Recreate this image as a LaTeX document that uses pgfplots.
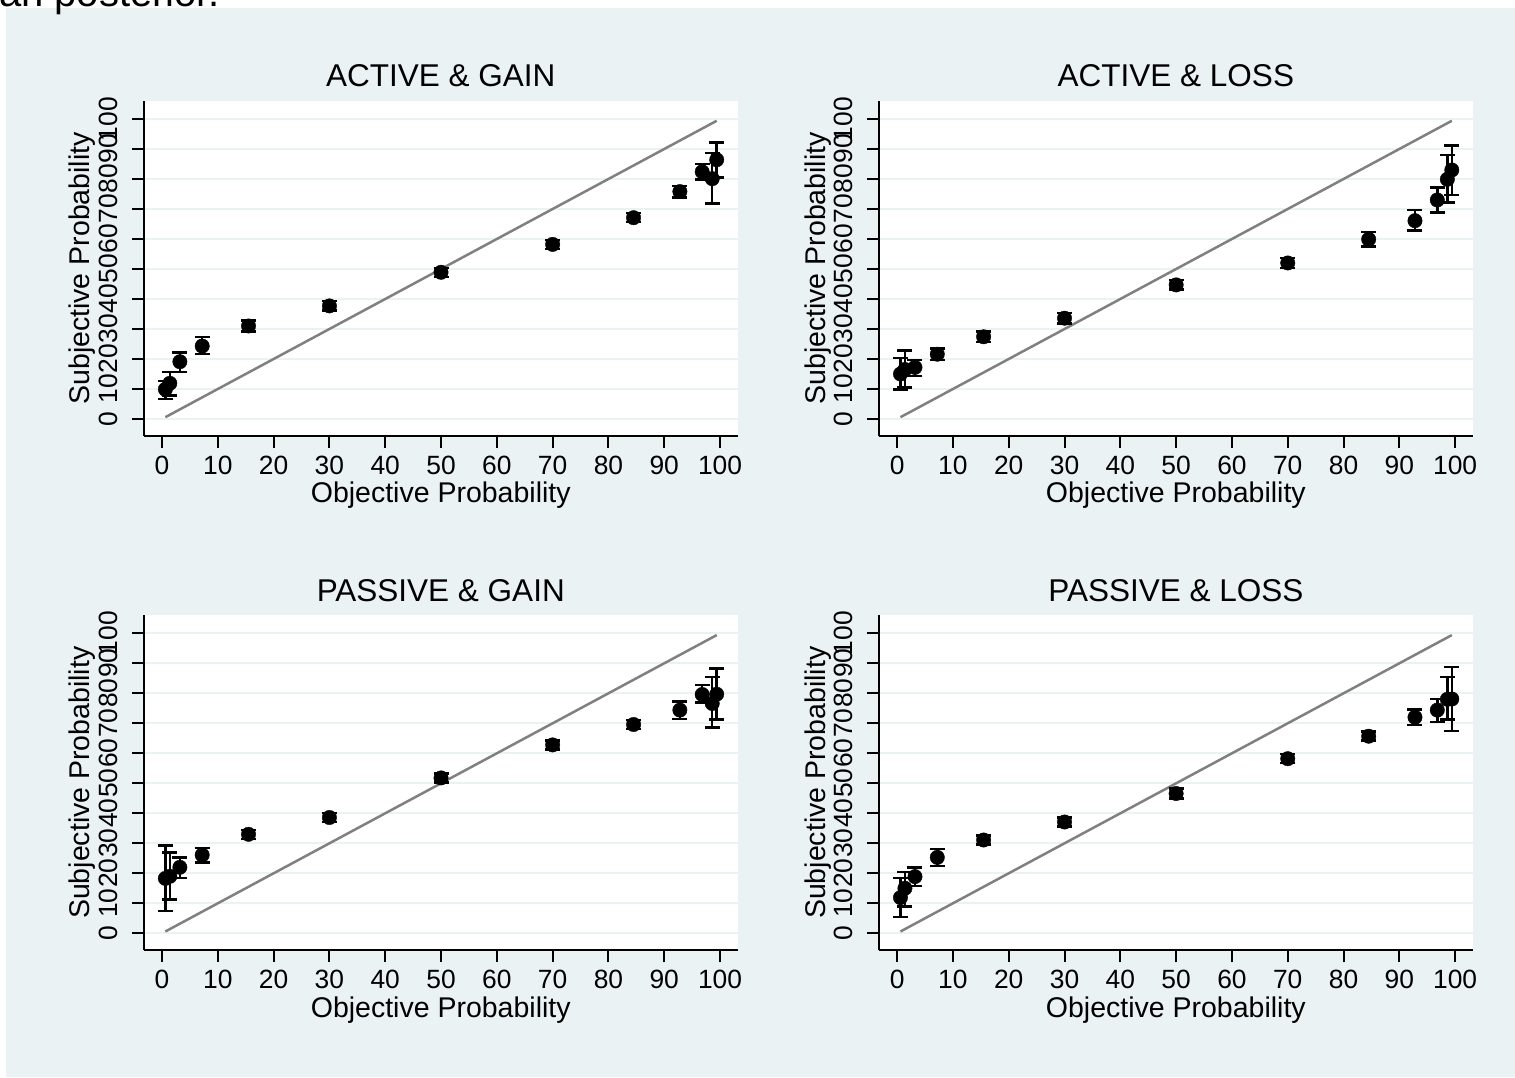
\documentclass[border=0pt]{standalone}
\usepackage{fontspec}
\setmainfont{Liberation Sans}
\usepackage{pgfplots}
\usepackage{pgfplotstable}
\pgfplotsset{compat=1.18}
\definecolor{bg}{RGB}{234,242,243}
\definecolor{diag}{RGB}{128,128,128}

\pgfplotstableread{
x y ep em
0.6 9.9 2.8 3.2
1.4 11.9 3.7 4.0
3.2 19.1 3.1 3.5
7.2 24.3 3.1 2.6
15.5 31.0 1.8 1.8
30 37.7 1.6 1.6
50 48.9 1.5 1.5
70 58.2 1.5 1.5
84.5 67.1 1.5 1.5
92.8 75.8 1.9 1.9
96.8 82.4 2.6 2.6
98.6 80.1 8.5 8.2
99.4 86.4 5.8 5.9
}\again
\pgfplotstableread{
x y ep em
0.6 15.0 5.4 5.1
1.4 16.5 6.3 6.0
3.2 17.2 2.5 2.9
7.2 21.6 1.9 1.9
15.5 27.4 1.7 1.7
30 33.6 1.7 1.7
50 44.7 1.6 1.6
70 52.0 1.7 1.7
84.5 59.9 2.4 2.4
92.8 66.1 3.6 3.3
96.8 73.0 4.2 4.2
98.6 79.9 8.1 7.8
99.4 83.0 8.2 8.4
}\aloss
\pgfplotstableread{
x y ep em
0.6 18.3 10.9 10.8
1.4 19.0 8.0 7.7
3.2 22.0 3.2 3.5
7.2 26.1 2.4 2.5
15.5 33.0 1.5 1.5
30 38.6 1.5 1.5
50 51.8 1.5 1.5
70 62.8 1.5 1.5
84.5 69.6 1.5 1.5
92.8 74.4 2.8 2.9
96.8 79.6 3.1 2.6
98.6 76.6 8.9 8.0
99.4 79.7 8.5 8.4
}\pgain
\pgfplotstableread{
x y ep em
0.6 11.9 6.6 6.4
1.4 15.0 5.5 6.1
3.2 18.9 3.0 3.1
7.2 25.3 2.8 2.8
15.5 31.1 1.5 1.5
30 37.1 1.5 1.5
50 46.6 1.6 1.6
70 58.2 1.5 1.5
84.5 65.7 1.5 1.5
92.8 72.0 2.6 2.6
96.8 74.4 3.7 3.9
98.6 78.0 7.5 6.7
99.4 78.1 10.6 10.7
}\ploss

\pgfplotsset{
  panel/.style={
    scale only axis, width=594.3pt, height=334.8pt,
    xmin=-3.3, xmax=103.2, ymin=-5.6, ymax=106,
    enlargelimits=false,
    axis lines=left, axis line style={-, line width=2pt, black},
    xtick={0,10,...,100}, ytick={0,10,...,100},
    tick align=outside, major tick length=12pt,
    tick style={line width=2pt, black},
    minor tick num=0,
    ymajorgrids, major grid style={line width=2pt, bg},
    axis background/.style={fill=white},
    /pgf/number format/assume math mode=true,
    tick label style={font=\fontsize{26.4}{30}\selectfont, inner sep=0pt},
    xticklabel style={anchor=north},
    xticklabel shift=8pt,
    yticklabel style={rotate=90, anchor=south},
    yticklabel shift=13.6pt,
    xlabel={Objective Probability}, ylabel={Subjective Probability},
    label style={font=\fontsize{28.5}{32}\selectfont},
    xlabel style={at={(axis description cs:0.5,-0.2001)}, anchor=base},
    ylabel style={at={(axis description cs:-0.0902,0.5)}, anchor=base},
    title style={at={(axis description cs:0.5,1.024)}, anchor=base, font=\fontsize{31.5}{36}\selectfont},
  },
  pts/.style={only marks, mark=*, mark size=7.2pt, black, mark options={fill=black, draw=black},
    error bars/.cd, y dir=both, y explicit,
    error bar style={line width=2.5pt, black},
    error mark options={rotate=90, line width=2.5pt, mark size=7.5pt, black}},
  dg/.style={diag, line width=2.5pt, mark=none},
}

\begin{document}
\begin{tikzpicture}
\useasboundingbox (0pt,0pt) rectangle (1515pt,1077pt);
\fill[bg] (6pt,0pt) rectangle (1515pt,1069pt);
\node[anchor=base west, inner sep=0pt, font=\fontsize{40}{44}\selectfont] at (-10pt,1070pt) {ian posterior.};

\begin{axis}[panel, at={(143.6pt,641.2pt)}, anchor=south west, title={ACTIVE \& GAIN}]
\addplot[dg] coordinates {(0.6,0.6) (99.4,99.4)};
\addplot[pts] table[x=x, y=y, y error plus=ep, y error minus=em] {\again};
\end{axis}

\begin{axis}[panel, at={(878.7pt,641.2pt)}, anchor=south west, title={ACTIVE \& LOSS}]
\addplot[dg] coordinates {(0.6,0.6) (99.4,99.4)};
\addplot[pts] table[x=x, y=y, y error plus=ep, y error minus=em] {\aloss};
\end{axis}

\begin{axis}[panel, at={(143.6pt,126.9pt)}, anchor=south west, title={PASSIVE \& GAIN}]
\addplot[dg] coordinates {(0.6,0.6) (99.4,99.4)};
\addplot[pts] table[x=x, y=y, y error plus=ep, y error minus=em] {\pgain};
\end{axis}

\begin{axis}[panel, at={(878.7pt,126.9pt)}, anchor=south west, title={PASSIVE \& LOSS}]
\addplot[dg] coordinates {(0.6,0.6) (99.4,99.4)};
\addplot[pts] table[x=x, y=y, y error plus=ep, y error minus=em] {\ploss};
\end{axis}
\end{tikzpicture}
\end{document}
